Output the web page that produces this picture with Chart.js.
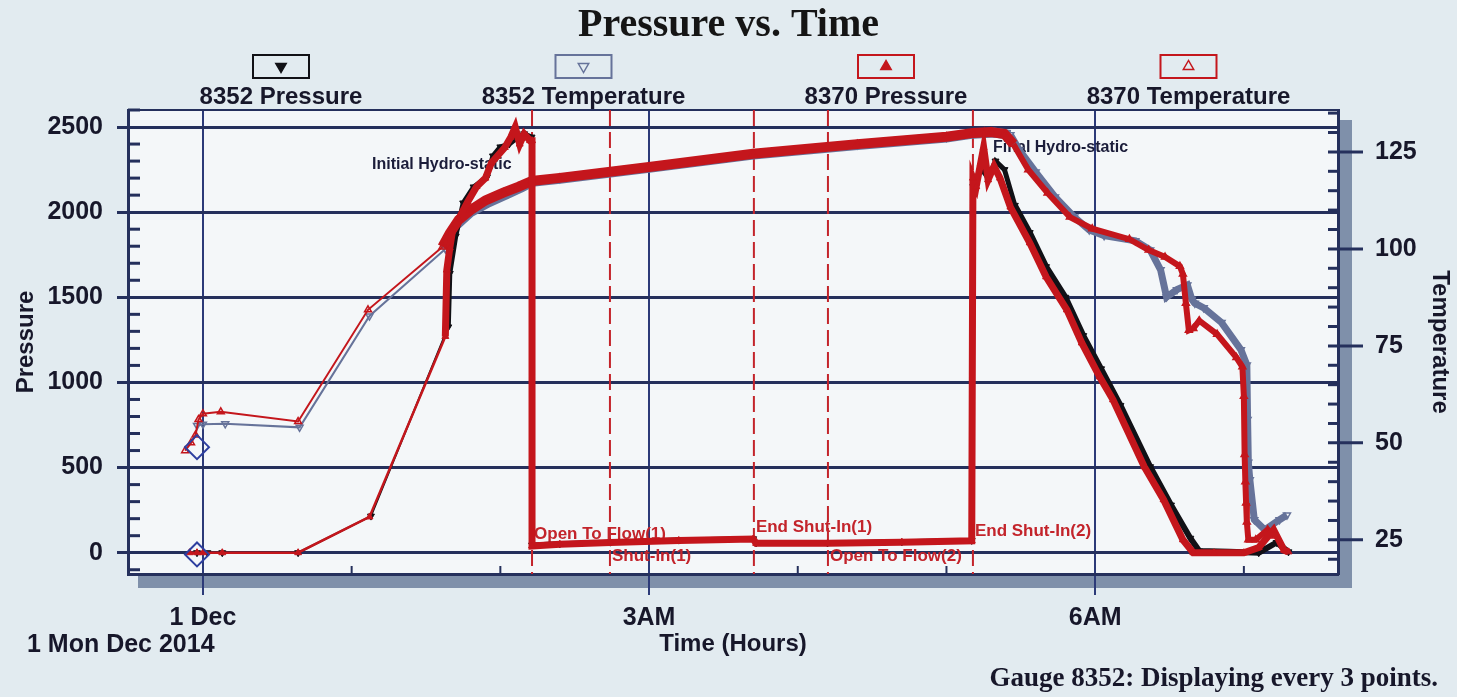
<!DOCTYPE html>
<html>
<head>
<meta charset="utf-8">
<title>Pressure vs. Time</title>
<script src="https://cdn.jsdelivr.net/npm/chart.js@4.4.1/dist/chart.umd.min.js"></script>
<style>
  html, body { margin: 0; padding: 0; background: #e2ebf0; }
  #wrap { width: 1457px; height: 697px; }
</style>
</head>
<body>
<div id="wrap"><canvas id="chart" width="1457" height="697"></canvas></div>
<script>
const SANS = "'Liberation Sans', Arial, Helvetica, sans-serif";
const SERIF = "'Liberation Serif', 'Times New Roman', serif";
const NAVY = '#25305c';
const GRIDBLUE = '#2c3a78';
const RED = '#c4161c';
const EVENTRED = '#c3242b';
const BLACK = '#111116';
const SLATE = '#66739a';
const INK = '#17172a';
const PAGE = '#e2ebf0';
const PLOT = '#f4f7f9';
const SHADOW = '#7f90aa';

// x values are hours after midnight, Mon 1 Dec 2014
const tickHours = [0, 3, 6];
const tickNames = ['1 Dec', '3AM', '6AM'];
const pressureTicks = [0, 500, 1000, 1500, 2000, 2500];
const temperatureTicks = [25, 50, 75, 100, 125];

const seriesNames = ['8352 Pressure', '8352 Temperature', '8370 Pressure', '8370 Temperature'];

const p8352Hours = [-0.04, 0.03, 0.13, 0.64, 1.13, 1.65, 1.66, 1.70, 1.75, 1.82, 1.91, 1.95, 2.00, 2.06, 2.12, 2.16, 2.21, 2.213,
  2.40, 2.74, 3.20, 3.70, 3.72, 4.20, 4.70, 5.17, 5.18, 5.23, 5.28, 5.33, 5.39, 5.46, 5.56, 5.67, 5.80, 5.92, 6.04, 6.17,
  6.37, 6.51, 6.64, 6.70, 6.90, 7.10, 7.22, 7.30];
const p8352Psi = [0, 0, 0, 0, 215, 1326, 1640, 1860, 2054, 2148, 2206, 2330, 2383, 2400, 2441, 2460, 2441, 45,
  52, 62, 74, 82, 57, 57, 64, 72, 2150, 2260, 2200, 2300, 2250, 2040, 1880, 1680, 1500, 1275, 1080, 865,
  505, 280, 85, 10, 5, 0, 60, 5];

const p8370Hours = [-0.09, -0.04, 0.00, 0.13, 0.64, 1.12, 1.63, 1.64, 1.66, 1.68, 1.72, 1.78, 1.84, 1.90, 1.94, 1.98, 2.03, 2.07,
  2.10, 2.13, 2.16, 2.20, 2.213, 2.213, 2.40, 2.74, 3.20, 3.70, 3.72, 4.20, 4.70, 5.17, 5.178, 5.20, 5.25, 5.28, 5.32, 5.36,
  5.43, 5.56, 5.67, 5.81, 5.91, 6.03, 6.12, 6.33, 6.46, 6.59, 6.66, 6.80, 7.00, 7.10, 7.20, 7.27, 7.30];
const p8370Psi = [0, 0, 0, 0, 0, 210, 1270, 1660, 1790, 1900, 1960, 2060, 2150, 2200, 2290, 2330, 2380, 2440,
  2500, 2400, 2460, 2420, 2420, 40, 50, 60, 72, 80, 55, 55, 62, 70, 2200, 2150, 2380, 2190, 2270, 2200,
  2030, 1820, 1620, 1426, 1232, 1033, 898, 505, 311, 76, 0, 0, 0, 30, 135, 15, 5];

const t8352Hours = [-0.04, 0.00, 0.15, 0.65, 1.12, 1.63, 1.70, 1.80, 1.92, 2.05, 2.15, 2.213, 2.40, 3.00, 3.70, 4.40, 5.00, 5.18,
  5.32, 5.43, 5.49, 5.60, 5.73, 5.86, 5.96, 6.06, 6.27, 6.37, 6.44, 6.48, 6.55, 6.62, 6.65, 6.67, 6.73, 6.85, 6.98, 7.02,
  7.025, 7.03, 7.04, 7.07, 7.14, 7.24, 7.29];
const t8352Deg = [54.5, 54.8, 54.9, 54.0, 82.7, 100, 106, 109.5, 112, 114.2, 116, 117.3, 118.1, 120.9, 124.3, 126.8, 128.7, 129.7,
  130, 129.4, 125.5, 119.8, 113.4, 108.2, 104.9, 103.4, 102.1, 99.7, 94.6, 87.6, 89.5, 90.7, 87, 86, 84.8, 81, 74, 70.1,
  56, 45, 40.5, 30.2, 27.6, 30.2, 31.4];

const t8370Hours = [-0.12, -0.08, -0.05, -0.03, 0.00, 0.12, 0.64, 1.11, 1.61, 1.66, 1.72, 1.80, 1.90, 2.02, 2.12, 2.213, 2.40,
  3.00, 3.70, 4.40, 5.00, 5.18, 5.30, 5.39, 5.45, 5.55, 5.68, 5.83, 5.98, 6.23, 6.36, 6.47, 6.57, 6.59, 6.61, 6.63, 6.66,
  6.70, 6.82, 6.95, 6.99, 7.00, 7.005, 7.01, 7.015, 7.02, 7.03, 7.08, 7.16, 7.21];
const t8370Deg = [48, 50, 52, 56, 57.5, 58, 55.5, 84.3, 100.5, 104, 107.5, 110, 112.5, 114.5, 116, 117.5, 118.3,
  121.1, 124.5, 127, 128.9, 129.9, 130.1, 129.6, 127, 120.4, 114.4, 108.2, 105.2, 102.5, 99.7, 97.9, 95.5, 93.5, 86, 79, 79.5,
  81.5, 78, 72, 69.6, 62, 47, 40, 34.5, 29.6, 25, 25, 27.6, 26];

const markerHours = [-0.04, -0.04];
const markerPsi = [620, -10];

const eventHours = [2.213, 2.737, 3.705, 4.203, 5.178];
const eventNames = ['Open To Flow(1)', 'Shut-In(1)', 'End Shut-In(1)', 'Open To Flow(2)', 'End Shut-In(2)'];

const noteNames = ['Initial Hydro-static', 'Final Hydro-static'];

function pts(xs, ys) { return xs.map((v, i) => ({ x: v, y: ys[i] })); }

// line weight by time: thin early, heavy where the logger marks were dense
function weight(thin, mid, late) {
  return {
    borderWidth: c => {
      const h = c.p0.parsed.x;
      return h < 1.6 ? thin : (h < 5.4 ? mid : late);
    }
  };
}

function tri(ctx, x, y, r, down, fill, stroke) {
  const s = down ? -1 : 1;
  ctx.beginPath();
  ctx.moveTo(x, y - s * r);
  ctx.lineTo(x - r * 0.866, y + s * r / 2);
  ctx.lineTo(x + r * 0.866, y + s * r / 2);
  ctx.closePath();
  if (fill) { ctx.fillStyle = fill; ctx.fill(); }
  ctx.strokeStyle = stroke; ctx.lineWidth = 1.5; ctx.stroke();
}

const decor = {
  id: 'decor',
  beforeDraw(chart) {
    const { ctx, chartArea: a } = chart;
    ctx.save();
    ctx.fillStyle = PAGE;
    ctx.fillRect(0, 0, chart.width, chart.height);
    ctx.fillStyle = SHADOW;
    ctx.fillRect(a.left + 10, a.bottom, a.width + 4, 14);
    ctx.fillRect(a.right, a.top + 10, 14, a.height + 4);
    ctx.fillStyle = PLOT;
    ctx.fillRect(a.left, a.top, a.width, a.height);
    ctx.restore();
  },
  beforeDatasetsDraw(chart) {
    const { ctx, chartArea: a, scales: { x, y, y2 } } = chart;
    const line = (x1, y1, x2, y2_) => { ctx.beginPath(); ctx.moveTo(x1, y1); ctx.lineTo(x2, y2_); ctx.stroke(); };
    ctx.save();
    ctx.strokeStyle = NAVY;
    ctx.lineWidth = 2;
    line(a.left, a.top, a.right, a.top);

    // minor pressure ticks every 100
    ctx.lineWidth = 3;
    for (let v = -100; v <= 2600; v += 100) {
      if (v % 500 === 0) continue;
      const py = y.getPixelForValue(v);
      line(a.left, py, a.left + 12, py);
    }
    // temperature ticks every 5, majors cross the frame
    for (let v = 20; v <= 135; v += 5) {
      const py = y2.getPixelForValue(v);
      line(a.right - 10, py, a.right + (v % 25 === 0 ? 25 : 0), py);
    }
    // hourly ticks on the time axis
    ctx.lineWidth = 2;
    for (let h = 0; h <= 7; h++) {
      if (h % 3 === 0) continue;
      const px = x.getPixelForValue(h);
      line(px, a.bottom, px, a.bottom - 8);
    }

    // test events
    ctx.strokeStyle = EVENTRED;
    ctx.lineWidth = 2;
    ctx.setLineDash([16, 6]);
    eventHours.forEach(h => { const px = x.getPixelForValue(h); line(px, a.top, px, a.bottom); });
    ctx.setLineDash([]);
    const labelPsi = [106, -23, 147, -23, 123];
    ctx.fillStyle = EVENTRED;
    ctx.font = 'bold 17px ' + SANS;
    ctx.textBaseline = 'middle';
    ctx.textAlign = 'left';
    eventNames.forEach((t, i) => ctx.fillText(t, x.getPixelForValue(eventHours[i]) + 2, y.getPixelForValue(labelPsi[i])));

    // hydrostatic notes
    const noteAt = [[1.137, 2277], [5.313, 2377]];
    ctx.fillStyle = '#1b1d3a';
    ctx.font = 'bold 16px ' + SANS;
    noteNames.forEach((t, i) => ctx.fillText(t, x.getPixelForValue(noteAt[i][0]), y.getPixelForValue(noteAt[i][1])));
    ctx.restore();
  },
  afterDraw(chart) {
    const { ctx, chartArea: a } = chart;
    ctx.save();
    // legend: boxed marker above each series name
    const marks = [
      { color: BLACK, down: true, fill: BLACK },
      { color: SLATE, down: true, fill: null },
      { color: RED, down: false, fill: RED },
      { color: RED, down: false, fill: null }
    ];
    ctx.textAlign = 'center';
    ctx.textBaseline = 'middle';
    ctx.font = 'bold 24px ' + SANS;
    chart.data.datasets.slice(0, 4).forEach((ds, i) => {
      const cx = a.left + 153 + i * 302.5;
      const m = marks[i];
      ctx.strokeStyle = m.color;
      ctx.lineWidth = 2;
      ctx.strokeRect(cx - 28, 55, 56, 23);
      tri(ctx, cx, 66.5, 6, m.down, m.fill, m.color);
      ctx.fillStyle = INK;
      ctx.fillText(ds.label, cx, 97);
    });
    ctx.textAlign = 'left';
    ctx.font = 'bold 25px ' + SANS;
    ctx.fillText('1 Mon Dec 2014', 27, 645);
    ctx.textAlign = 'right';
    ctx.font = 'bold 27px ' + SERIF;
    ctx.fillText('Gauge 8352: Displaying every 3 points.', 1438, 679);
    ctx.restore();
  }
};

const plainTick = v => String(v);

new Chart(document.getElementById('chart'), {
  type: 'line',
  data: {
    datasets: [
      {
        label: seriesNames[0], data: pts(p8352Hours, p8352Psi), yAxisID: 'y', order: 2,
        borderColor: BLACK, backgroundColor: BLACK, pointStyle: 'triangle', rotation: 180,
        pointRadius: 4, pointBorderWidth: 1, segment: weight(2, 5, 6)
      },
      {
        label: seriesNames[1], data: pts(t8352Hours, t8352Deg), yAxisID: 'y2', order: 3,
        borderColor: SLATE, backgroundColor: 'rgba(0,0,0,0)', pointStyle: 'triangle', rotation: 180,
        pointRadius: 4, pointBorderWidth: 1.5, segment: weight(2, 10, 7)
      },
      {
        label: seriesNames[2], data: pts(p8370Hours, p8370Psi), yAxisID: 'y', order: 0,
        borderColor: RED, backgroundColor: RED, pointStyle: 'triangle',
        pointRadius: 4, pointBorderWidth: 1, segment: weight(2.5, 7, 7)
      },
      {
        label: seriesNames[3], data: pts(t8370Hours, t8370Deg), yAxisID: 'y2', order: 1,
        borderColor: RED, backgroundColor: 'rgba(0,0,0,0)', pointStyle: 'triangle',
        pointRadius: 4, pointBorderWidth: 1.5, segment: weight(2, 10, 6)
      },
      {
        label: 'marker', data: pts(markerHours, markerPsi), yAxisID: 'y', order: -1, showLine: false,
        borderColor: '#2d3fa0', backgroundColor: 'rgba(0,0,0,0)', pointStyle: 'rectRot',
        pointRadius: 12, pointBorderWidth: 2
      }
    ]
  },
  options: {
    responsive: false,
    animation: false,
    events: [],
    layout: { padding: 0 },
    plugins: {
      legend: { display: false },
      tooltip: { enabled: false },
      title: {
        display: true, text: 'Pressure vs. Time', color: '#151515',
        font: { family: SERIF, size: 40, weight: 'bold' }, padding: { top: 2, bottom: 60 }
      }
    },
    scales: {
      x: {
        type: 'linear', min: -0.504, max: 7.633,
        afterBuildTicks: s => { s.ticks = tickHours.map(v => ({ value: v })); },
        afterFit: s => { s.height = 123; },
        ticks: {
          autoSkip: false, maxRotation: 0, padding: 8, color: INK,
          font: { family: SANS, size: 25, weight: 'bold' },
          callback: v => tickNames[tickHours.indexOf(v)]
        },
        grid: { color: GRIDBLUE, lineWidth: 2, tickLength: 21 },
        border: { color: NAVY, width: 3 },
        title: {
          display: true, text: 'Time (Hours)', color: INK,
          font: { family: SANS, size: 24, weight: 'bold' }, padding: { top: 0, bottom: 38 }
        }
      },
      y: {
        position: 'left', min: -125, max: 2600,
        afterBuildTicks: s => { s.ticks = pressureTicks.map(v => ({ value: v })); },
        afterFit: s => { s.width = 128; },
        ticks: { padding: 14, color: INK, font: { family: SANS, size: 25, weight: 'bold' }, callback: plainTick },
        grid: { color: NAVY, lineWidth: 3, tickLength: 11 },
        border: { color: NAVY, width: 3 },
        title: {
          display: true, text: 'Pressure', color: INK,
          font: { family: SANS, size: 24, weight: 'bold' }, padding: { top: 12, bottom: 0 }
        }
      },
      y2: {
        position: 'right', min: 16.2, max: 135.8,
        afterBuildTicks: s => { s.ticks = temperatureTicks.map(v => ({ value: v })); },
        afterFit: s => { s.width = 119; },
        ticks: { padding: 37, color: INK, font: { family: SANS, size: 25, weight: 'bold' }, callback: plainTick },
        grid: { drawOnChartArea: false, drawTicks: false },
        border: { color: NAVY, width: 3 },
        title: {
          display: true, text: 'Temperature', color: INK,
          font: { family: SANS, size: 24, weight: 'bold' }, padding: { top: 3, bottom: 0 }
        }
      }
    }
  },
  plugins: [decor]
});
</script>
</body>
</html>
